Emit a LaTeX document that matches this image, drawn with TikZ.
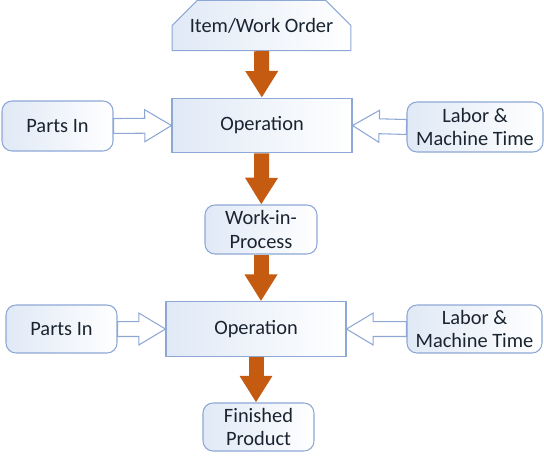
\documentclass[tikz,border=0pt]{standalone}
\usepackage{fontspec}
\setmainfont{Carlito}
\usepackage{tikz}
\usetikzlibrary{shapes.misc,arrows.meta,calc}
\usepackage{xcolor}

\definecolor{boxline}{HTML}{8EA8D6}
\definecolor{boxfill}{HTML}{E0E9F6}
\definecolor{flowbrown}{HTML}{C55A11}
\definecolor{inktext}{HTML}{1A2430}

\tikzset{
    box/.style={draw=boxline, line width=0.8pt, left color=boxfill, right color=white,
        text=inktext, align=center, inner sep=2pt, font=\fontsize{15.3}{17.5}\selectfont},
    opbox/.style={box, minimum width=135pt, minimum height=41pt},
    roundbox/.style={box, rounded corners=7.5pt},
    flow/.style={draw=flowbrown, line width=11.25pt, -{Triangle[width=23.25pt,length=20pt]}},
    hollow/.style={draw=boxline, line width=0.8pt, fill=white, line join=miter,
        to path={($(\tikztostart)!5.6pt!90:(\tikztotarget)$)
            -- ($(\tikztotarget)!20pt!(\tikztostart)!5.6pt!90:(\tikztotarget)$)
            -- ($(\tikztotarget)!20pt!(\tikztostart)!12pt!90:(\tikztotarget)$)
            -- (\tikztotarget)
            -- ($(\tikztotarget)!20pt!(\tikztostart)!12pt!-90:(\tikztotarget)$)
            -- ($(\tikztotarget)!20pt!(\tikztostart)!5.6pt!-90:(\tikztotarget)$)
            -- ($(\tikztostart)!5.6pt!-90:(\tikztotarget)$) -- cycle}}
}

\begin{document}
\begin{tikzpicture}[x=0.75pt,y=-0.75pt]

    \useasboundingbox (0,0) rectangle (544,461);

    \node[box, chamfered rectangle, chamfered rectangle corners={north west,north east},
        chamfered rectangle xsep=8.25pt, chamfered rectangle ysep=11.25pt,
        minimum width=134pt, minimum height=35pt] (order) at (261.5,25.5) {Item/Work Order};

    \node[opbox] (opA) at (262,125.5) {Operation};
    \node[roundbox, minimum width=83.25pt, minimum height=37.5pt] (partsA) at (57.5,126) {Parts In};
    \node[roundbox, minimum width=102pt, minimum height=37.5pt] (laborA) at (475,127) {Labor \&\\Machine Time};

    \node[roundbox, minimum width=84pt, minimum height=36.75pt] (wip) at (261,229.5) {Work-in-\\Process};

    \node[opbox] (opB) at (256,329) {Operation};
    \node[roundbox, minimum width=83.25pt, minimum height=36pt] (partsB) at (61.5,329) {Parts In};
    \node[roundbox, minimum width=101.25pt, minimum height=36pt] (laborB) at (474.5,329) {Labor \&\\Machine Time};

    \node[roundbox, minimum width=83.25pt, minimum height=36pt] (fin) at (258.5,427) {Finished\\Product};

    \draw[flow] (order) to (opA);
    \draw[flow] (opA) to (wip);
    \draw[flow] (wip) to (wip |- opB.north);
    \draw[flow] (opB) to (opB |- fin.north);

    \draw[hollow] (partsA.east) to (opA.west);
    \draw[hollow] (laborA.west) to (opA.east);
    \draw[hollow] (partsB.east) to (opB.west);
    \draw[hollow] (laborB.west) to (opB.east);

\end{tikzpicture}
\end{document}
